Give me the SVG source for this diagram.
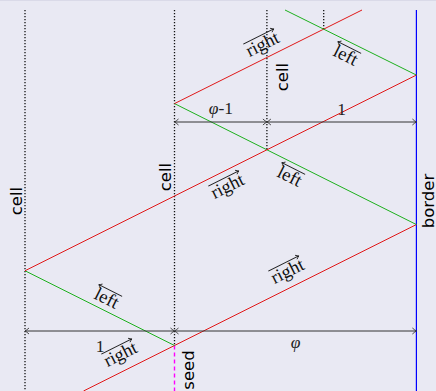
<svg xmlns="http://www.w3.org/2000/svg" width="436" height="391" viewBox="0 0 436 391">
<defs>
<style>
.bg{fill:#e9e9f3}
.dot{stroke:#111;stroke-width:1.3;stroke-dasharray:1.2 1.8;fill:none}
.red{stroke:#e01818;stroke-width:1;fill:none}
.grn{stroke:#1db01d;stroke-width:1;fill:none}
.dim{stroke:#333;stroke-width:1;fill:none;marker-start:url(#tip);marker-end:url(#tip)}
.sans{font-family:"DejaVu Sans","Liberation Sans",sans-serif;font-size:16.5px;fill:#000}
.serif{font-family:"Liberation Serif","DejaVu Serif",serif;font-size:17.5px;fill:#222}
.lab{font-family:"Liberation Serif","DejaVu Serif",serif;font-size:18.5px;fill:#111;text-anchor:middle}
.ov{stroke:#111;stroke-width:0.9;fill:none}
</style>
<marker id="tip" viewBox="-5 -4 6 8" refX="0" refY="0" markerWidth="6" markerHeight="8" orient="auto-start-reverse" markerUnits="userSpaceOnUse">
<path d="M-4,-3 Q-1.5,-0.8 0,0 Q-1.5,0.8 -4,3" fill="none" stroke="#333" stroke-width="0.9"/>
</marker>
<marker id="oh" viewBox="-4 -3 5 6" refX="0" refY="0" markerWidth="5" markerHeight="6" orient="auto-start-reverse" markerUnits="userSpaceOnUse">
<path d="M-3,-2.2 Q-1,-0.6 0,0 Q-1,0.6 -3,2.2" fill="none" stroke="#111" stroke-width="0.8"/>
</marker>
</defs>
<rect class="bg" x="0" y="0" width="436" height="391"/>
<line x1="0" y1="0.5" x2="436" y2="0.5" stroke="#dadae8" stroke-width="1"/>

<g id="cell-left">
<line class="dot" x1="25" y1="10" x2="25" y2="391"/>
<text class="sans" text-anchor="middle" transform="translate(21.5,201) rotate(-90)">cell</text>
</g>
<g id="cell-mid">
<line class="dot" x1="174.5" y1="10" x2="174.5" y2="345.5"/>
<text class="sans" text-anchor="middle" transform="translate(171,177) rotate(-90)">cell</text>
</g>
<g id="cell-right">
<line class="dot" x1="266.9" y1="10" x2="266.9" y2="149.8"/>
<text class="sans" text-anchor="middle" transform="translate(287.5,77) rotate(-90)">cell</text>
</g>
<g id="cell-far">
<line class="dot" x1="323.7" y1="10" x2="323.7" y2="29"/>
</g>
<g id="border">
<line x1="416.4" y1="10" x2="416.4" y2="391" stroke="#0000ff" stroke-width="1.2"/>
<text class="sans" text-anchor="middle" transform="translate(433.5,201) rotate(-90)">border</text>
</g>
<g id="seed">
<line x1="174.5" y1="345.5" x2="174.5" y2="391" stroke="#ff00ff" stroke-width="1.4" stroke-dasharray="4 3"/>
<text class="sans" text-anchor="middle" transform="translate(193.5,370) rotate(-90)">seed</text>
</g>

<g id="connectors">
<polyline class="red" points="83.5,391 174.5,345.5 416.4,224.55"/>
<line class="grn" x1="416.4" y1="224.55" x2="174.5" y2="103.6"/>
<line class="red" x1="174.5" y1="103.6" x2="362" y2="10"/>
<line class="grn" x1="174.5" y1="345.5" x2="25" y2="270.75"/>
<line class="red" x1="25" y1="270.75" x2="416.4" y2="75.05"/>
<line class="grn" x1="416.4" y1="75.05" x2="285" y2="10"/>

<line class="dim" x1="174.5" y1="122" x2="266.9" y2="122"/>
<line class="dim" x1="266.9" y1="122" x2="416.4" y2="122"/>
<line class="dim" x1="25" y1="331" x2="174.5" y2="331"/>
<line class="dim" x1="174.5" y1="331" x2="416.4" y2="331"/>
</g>

<g id="dim-labels">
<text class="serif" x="221" y="113.5" text-anchor="middle"><tspan font-style="italic">φ</tspan>-1</text>
<text class="serif" x="341.5" y="115" text-anchor="middle">1</text>
<text class="serif" x="100" y="352" text-anchor="middle">1</text>
<text class="serif" x="295.5" y="348" text-anchor="middle" font-style="italic">φ</text>
</g>

<g id="labels-right">
<g transform="translate(230,191.5) rotate(-26.565)">
<text class="lab" x="0" y="0">right</text>
<line class="ov" x1="-17" y1="-14.5" x2="17" y2="-14.5" marker-end="url(#oh)"/>
</g>
<g transform="translate(265,49.5) rotate(-26.565)">
<text class="lab" x="0" y="0">right</text>
<line class="ov" x1="-17" y1="-14.5" x2="17" y2="-14.5" marker-end="url(#oh)"/>
</g>
<g transform="translate(290,276.5) rotate(-26.565)">
<text class="lab" x="0" y="0">right</text>
<line class="ov" x1="-17" y1="-14.5" x2="17" y2="-14.5" marker-end="url(#oh)"/>
</g>
<g transform="translate(123,359.5) rotate(-26.565)">
<text class="lab" x="0" y="0">right</text>
<line class="ov" x1="-17" y1="-14.5" x2="17" y2="-14.5" marker-end="url(#oh)"/>
</g>
</g>
<g id="labels-left">
<g transform="translate(287,181.5) rotate(26.565)">
<text class="lab" x="0" y="0">left</text>
<line class="ov" x1="13" y1="-14.5" x2="-13" y2="-14.5" marker-end="url(#oh)"/>
</g>
<g transform="translate(343,60.5) rotate(26.565)">
<text class="lab" x="0" y="0">left</text>
<line class="ov" x1="13" y1="-14.5" x2="-13" y2="-14.5" marker-end="url(#oh)"/>
</g>
<g transform="translate(104,303.5) rotate(26.565)">
<text class="lab" x="0" y="0">left</text>
<line class="ov" x1="13" y1="-14.5" x2="-13" y2="-14.5" marker-end="url(#oh)"/>
</g>
</g>
</svg>
